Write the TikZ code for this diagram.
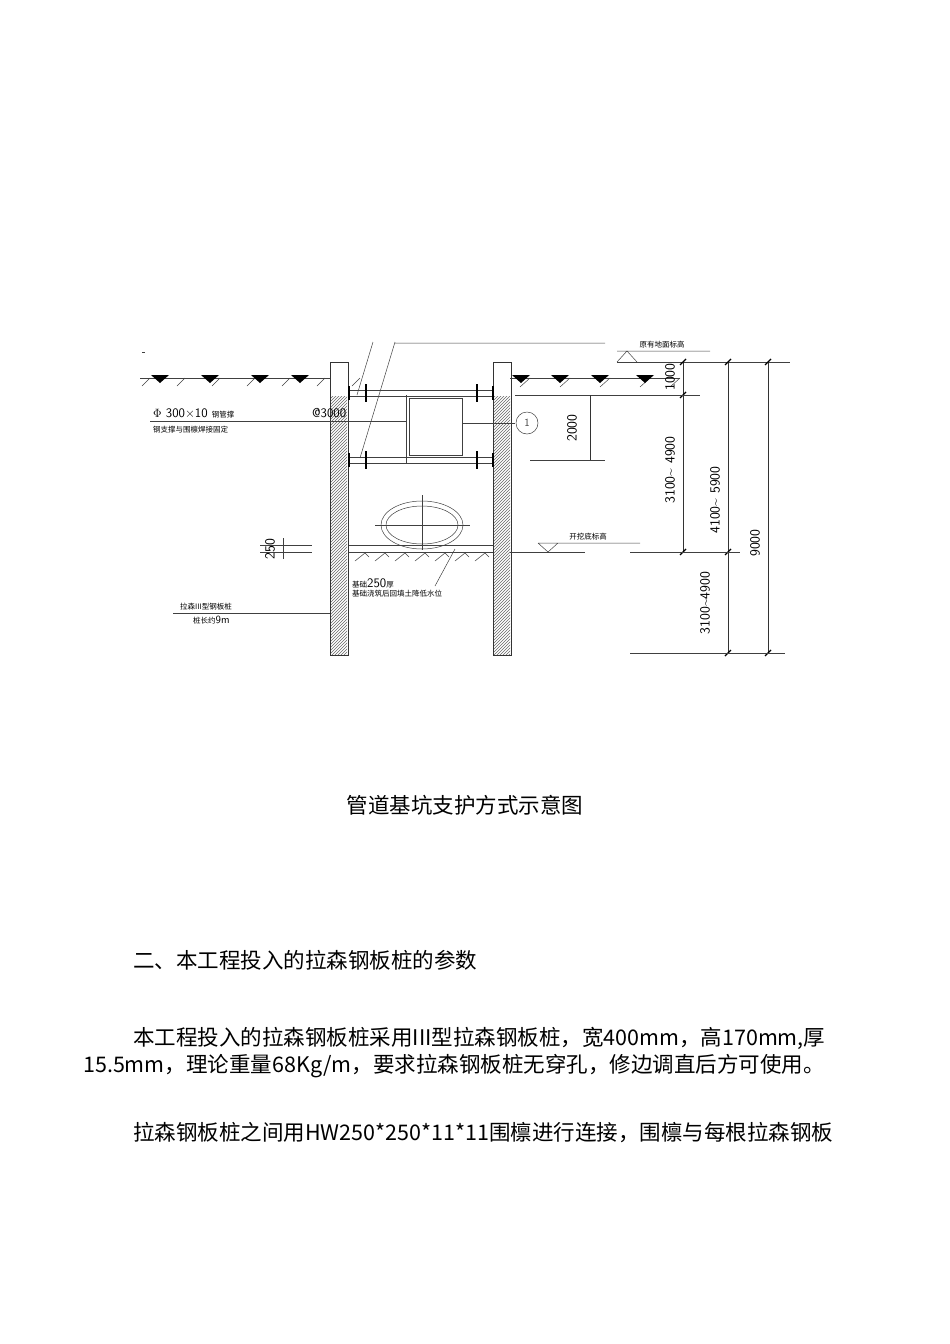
\documentclass[tikz,border=0pt]{standalone}
\usepackage{fontspec}
\newfontfamily\cjk{Noto Sans CJK SC}
\usetikzlibrary{patterns}
\begin{document}
\begin{tikzpicture}[x=1pt,y=-1pt,
  ln/.style={line width=0.8pt,black!80},
  thin/.style={line width=0.5pt,black!75},
  lab/.style={font=\cjk\fontsize{7.5}{9}\selectfont,inner sep=0pt},
  dimt/.style={font=\sffamily\fontsize{14}{15}\selectfont,inner sep=0pt,rotate=90},
  body/.style={font=\cjk\fontsize{21.5}{24}\selectfont,inner sep=0pt,anchor=west}]
\useasboundingbox (0,0) rectangle (950,1344);
% piles
\foreach \x/\n in {330/pl,493/pr}{
  \node[ln,draw,minimum width=18pt,minimum height=293pt,inner sep=0pt,anchor=north west] (\n) at (\x,362) {};
  \fill[pattern=north east lines,pattern color=black!60] (\x+1,396) rectangle (\x+17,654);
}
% ground
\draw[thin] (140,378) -- (330,378) (510,378) -- (680,378);
\foreach \x in {150,185,220,255,290,325,360}{\draw[thin] (\x-8,386)--(\x,378);}
\foreach \x in {160,210,260,300}{\fill (\x-9,375)--(\x+9,375)--(\x,383)--cycle;}
\foreach \x in {530,570,610,650,680}{\draw[thin] (\x-10,387)--(\x,378);}
\foreach \x in {521,560,600,645}{\fill (\x-9,375)--(\x+9,375)--(\x,383)--cycle;}
\draw[thin] (142,352)--(145,352);
% slanted leader lines
\draw[thin] (373,342)--(357,395) (395,342)--(360,458) (395,343)--(605,343);
% struts
\foreach \y in {393,460}{
  \draw[thin] (349,\y-3)--(493,\y-3) (349,\y+3)--(493,\y+3);
  \draw[line width=2.5pt] (366,\y-9)--(366,\y+9) (477,\y-9)--(477,\y+9);
  \draw[line width=1.2pt] (349,\y-7)--(349,\y+7) (493,\y-7)--(493,\y+7);
}
\draw[thin] (406,395)--(406,463);
\draw[thin] (409,398) rectangle (462,455);
% leaders left
\draw[thin] (150,421)--(406,421);
\node[lab,anchor=south west,font=\sffamily\fontsize{13}{14}\selectfont] (t1) at (153,418) {$\Phi$ 300×10 {\cjk\fontsize{7.5}{9}\selectfont 钢管撑}};
\node[lab,anchor=south west,font=\sffamily\fontsize{13}{14}\selectfont] (t2) at (312,418) {@3000};
\node[lab,anchor=north west] (t3) at (153,426) {钢支撑与围檩焊接固定};
\draw[thin] (462,423)--(515,423);
\node[draw,thin,circle,minimum size=22pt,inner sep=0pt,font=\sffamily\fontsize{11}{12}\selectfont] (c1) at (527,423) {1};
% 2000 dim
\draw[thin] (515,395)--(700,395) (530,460)--(605,460);
\draw[ln] (590,395)--(590,460);
\node[dimt] at (572,428) {2000};
% right dims
\draw[thin] (617,362)--(790,362);
\draw[thin] (617,362)--(627,351)--(637,362) (617,351)--(710,351);
\node[lab,anchor=south] at (662,348) {原有地面标高};
\draw[ln] (683,362)--(683,552) (728,362)--(728,653) (768,362)--(768,653);
\foreach \x/\y in {683/362,683/395,683/552,728/362,728/552,728/653,768/362,768/653}{\draw[line width=1.2pt] (\x-3,\y+3)--(\x+3,\y-3);}
\draw[thin] (630,653)--(785,653) (630,552)--(740,552) (650,395)--(700,395);
\node[dimt] at (670,377) {1000};
\node[dimt] at (670,470) {3100\textasciitilde{} 4900};
\node[dimt] at (715,500) {4100\textasciitilde{} 5900};
\node[dimt] at (705,603) {3100\textasciitilde{}4900};
\node[dimt] at (755,543) {9000};
% excavation bottom
\draw[thin] (349,545)--(493,545) (349,552)--(493,552);
\foreach \x in {355,375,...,480}{\draw[thin] (\x,561)--(\x+10,553)--(\x+14,557);}
\draw[thin] (510,552)--(585,552) (630,552)--(640,552);
\draw[thin] (538,543)--(548,552)--(558,543) (538,543)--(640,543);
\node[lab,anchor=south] at (588,540) {开挖底标高};
% pipe
\draw[thin] (422,525) ellipse (41 and 24);
\draw[thin] (422,525) ellipse (36 and 19);
\draw[thin] (375,525)--(470,525) (422,495)--(422,550);
% 250
\draw[thin] (260,545)--(312,545) (260,552)--(312,552) (283,538)--(283,559);
\node[dimt] at (270,549) {250};
% foundation label
\node[lab,anchor=south west] (t4) at (352,588) {基础{\sffamily\fontsize{13}{14}\selectfont 250}厚};
\node[lab,anchor=north west] (t5) at (352,590) {基础浇筑后回填土降低水位};
\draw[thin] (435,586)--(455,549);
% pile label
\draw[thin] (173,613)--(330,613);
\node[lab,anchor=south west] at (180,610) {拉森III型钢板桩};
\node[lab,anchor=north west] at (193,616) {桩长约{\sffamily\fontsize{11}{12}\selectfont 9m}};
% texts
\node[font=\cjk\fontsize{21.5}{24}\selectfont,inner sep=0pt] (cap) at (465,805) {管道基坑支护方式示意图};
\node[body] at (133,960) {二、本工程投入的拉森钢板桩的参数};
\node[body] at (133,1038) {本工程投入的拉森钢板桩采用III型拉森钢板桩，宽400mm，高170mm,厚};
\node[body] at (83,1066) {15.5mm，理论重量68Kg/m，要求拉森钢板桩无穿孔，修边调直后方可使用。};
\node[body] at (133,1133) {拉森钢板桩之间用HW250*250*11*11围檩进行连接，围檩与每根拉森钢板};
\end{tikzpicture}
\end{document}
